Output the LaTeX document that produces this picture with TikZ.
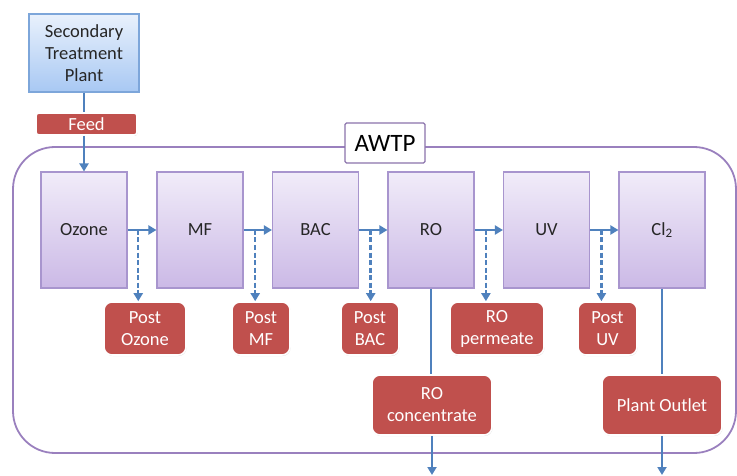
\documentclass[tikz,border=0pt]{standalone}
\usepackage{fontspec}
\setmainfont{Carlito}
\usetikzlibrary{calc, positioning, arrows.meta, shadows}

\definecolor{flowBlue}{HTML}{4F81BD}
\definecolor{sampleRed}{HTML}{C0504D}
\definecolor{awtpPurple}{HTML}{9A80BE}
\definecolor{unitTop}{HTML}{F1ECF9}
\definecolor{unitBottom}{HTML}{CBB9E6}
\definecolor{unitEdge}{HTML}{A895CE}
\definecolor{plantTop}{HTML}{E9F1FC}
\definecolor{plantBottom}{HTML}{A8C8F3}
\definecolor{plantEdge}{HTML}{7DA6DA}
\definecolor{labelText}{HTML}{262626}

\begin{document}
\begin{tikzpicture}[
			x=1pt, y=-1pt,
			font=\fontsize{18.5}{22}\selectfont,
			% Node styles
			unitBox/.style={rectangle, top color=unitTop, bottom color=unitBottom, draw=unitEdge, line width=1.1pt, minimum width=86, minimum height=116, text=labelText, drop shadow={shadow xshift=0.6pt, shadow yshift=-0.8pt, opacity=0.18}},
			sampleBox/.style={rectangle, rounded corners=8pt, fill=sampleRed, draw=white, line width=1.6pt, text=white, align=center, inner xsep=4pt, minimum height=53, drop shadow={shadow xshift=0.6pt, shadow yshift=-1pt, opacity=0.25}},
			% Line styles
			flow/.style={draw=flowBlue, line width=2.5pt},
			tap/.style={flow, dash pattern=on 5pt off 2.5pt},
			flowTip/.style={-{Triangle[length=8pt, width=9pt]}}
			]
			
			\useasboundingbox (0,0) rectangle (737,476);
			
			% =========================================================
			% 1. THE AWTP ENVELOPE
			% =========================================================
			
			\draw[draw=awtpPurple, line width=1.8pt, rounded corners=42pt] (13,147) rectangle (736,453);
			\node[fill=white, draw=awtpPurple!90!black, line width=1.4pt, rounded corners=1.5pt, minimum width=80, minimum height=40, font=\fontsize{25}{28}\selectfont] (awtp) at (385,143) {AWTP};
			
			% =========================================================
			% 2. SOURCE AND FEED
			% =========================================================
			
			\node[rectangle, top color=plantTop, bottom color=plantBottom, draw=plantEdge, line width=1.1pt, minimum width=110, minimum height=78, align=center, text=labelText, drop shadow={shadow xshift=0.6pt, shadow yshift=-0.8pt, opacity=0.18}] (stp) at (84,53) {Secondary\\Treatment\\Plant};
			\node[rectangle, rounded corners=3pt, fill=sampleRed, draw=white, line width=1.6pt, text=white, minimum width=101, minimum height=22, inner sep=0pt, drop shadow={shadow xshift=0.6pt, shadow yshift=-1pt, opacity=0.25}] (feed) at (86.5,124) {Feed};
			
			% =========================================================
			% 3. TREATMENT TRAIN
			% =========================================================
			
			\node[unitBox] (ozone) at (84,230) {Ozone};
			\node[unitBox] (mf)    at (200,230) {MF};
			\node[unitBox] (bac)   at (315.5,230) {BAC};
			\node[unitBox] (ro)    at (431,230) {RO};
			\node[unitBox] (uv)    at (546.5,230) {UV};
			\node[unitBox] (cl)    at (662,230) {Cl\textsubscript{2}};
			
			\draw[flow] (stp.south) -- (stp.south |- feed.north);
			\draw[flow, flowTip] (feed.south -| ozone.north) -- (ozone.north);
			
			\draw[flow, flowTip] (ozone.east) -- (mf.west);
			\draw[flow, flowTip] (mf.east) -- (bac.west);
			\draw[flow, flowTip] (bac.east) -- (ro.west);
			\draw[flow, flowTip] (ro.east) -- (uv.west);
			\draw[flow, flowTip] (uv.east) -- (cl.west);
			
			% =========================================================
			% 4. SAMPLING POINTS
			% =========================================================
			
			\node[sampleBox, minimum width=82] (postOzone) at (145,328.5) {Post\\Ozone};
			\node[sampleBox, minimum width=58] (postMF)    at (261,328.5) {Post\\MF};
			\node[sampleBox, minimum width=58] (postBAC)   at (370,328.5) {Post\\BAC};
			\node[sampleBox, minimum width=94] (roPerm)    at (497,328.5) {RO\\permeate};
			\node[sampleBox, minimum width=59] (postUV)    at (607.5,328.5) {Post\\UV};
			\node[sampleBox, minimum width=120, minimum height=60] (roConc) at (432,405) {RO\\concentrate};
			\node[sampleBox, minimum width=120, minimum height=60] (outlet) at (662,405) {Plant Outlet};
			
			% Dashed taps off the main flow
			\coordinate (tapOzone) at ($(ozone.east)!0.37!(mf.west)$);
			\coordinate (tapMF)    at ($(mf.east)!0.41!(bac.west)$);
			\coordinate (tapBAC)   at ($(bac.east)!0.41!(ro.west)$);
			\coordinate (tapRO)    at ($(ro.east)!0.4!(uv.west)$);
			\coordinate (tapUV)    at ($(uv.east)!0.4!(cl.west)$);
			
			\draw[tap, flowTip] (tapOzone) -- (tapOzone |- postOzone.north);
			\draw[tap, flowTip] (tapMF) -- (tapMF |- postMF.north);
			\draw[tap, flowTip] (tapBAC) -- (tapBAC |- postBAC.north);
			\draw[tap, flowTip] (tapRO) -- (tapRO |- roPerm.north);
			\draw[tap, flowTip] (tapUV) -- (tapUV |- postUV.north);
			
			% Outgoing streams
			\coordinate (exitEdge) at (0,475);
			\draw[flow] (ro.south) -- (ro.south |- roConc.north);
			\draw[flow, flowTip] (roConc.south) -- (roConc.south |- exitEdge);
			\draw[flow] (cl.south) -- (cl.south |- outlet.north);
			\draw[flow, flowTip] (outlet.south) -- (outlet.south |- exitEdge);
			
		\end{tikzpicture}
\end{document}
